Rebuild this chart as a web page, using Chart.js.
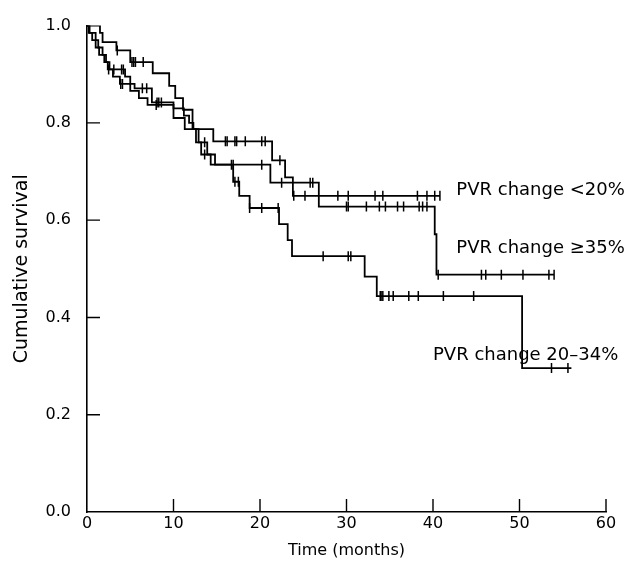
<!DOCTYPE html>
<html lang="en">
<head>
    <meta charset="UTF-8">
    <title>Cumulative survival by PVR change</title>
    <script src="https://cdn.jsdelivr.net/npm/chart.js"></script>
    <style>
        body { margin: 0; background: #fff; }
        #wrap { width: 630px; height: 567px; }
    </style>
</head>
<body>
    <div id="wrap"><canvas id="survivalChart"></canvas></div>

    <script>
        // Kaplan-Meier steps (time in months, survival after the step)
        const timeLt20 = [0, 1.5, 1.8, 3.4, 5.0, 7.6, 9.5, 10.2, 11.1, 12.2, 14.6, 21.4, 22.9, 23.8, 40.8];
        const survLt20 = [1.0, 0.985, 0.966, 0.949, 0.925, 0.902, 0.876, 0.851, 0.827, 0.787, 0.762, 0.723, 0.688, 0.65, 0.65];
        const censLt20 = [3.5, 5.2, 5.4, 5.6, 6.5, 16.0, 16.2, 17.1, 17.3, 18.3, 20.2, 20.6, 22.3, 23.9, 25.2, 29.0, 30.2, 33.3, 34.2, 38.2, 39.3, 40.2, 40.8];

        const timeGe35 = [0, 0.3, 1.0, 1.3, 1.8, 2.2, 2.6, 4.4, 5.0, 5.5, 7.5, 10.0, 11.3, 12.6, 13.2, 14.3, 21.2, 26.8, 40.2, 40.4, 54.0];
        const survGe35 = [1.0, 0.985, 0.97, 0.955, 0.94, 0.925, 0.91, 0.895, 0.88, 0.871, 0.842, 0.81, 0.787, 0.76, 0.735, 0.714, 0.677, 0.628, 0.571, 0.488, 0.488];
        const censGe35 = [3.1, 4.0, 4.2, 6.4, 6.9, 8.1, 8.3, 8.6, 13.6, 16.7, 16.9, 20.2, 22.5, 25.8, 26.1, 30.0, 30.2, 32.3, 33.8, 34.5, 35.9, 36.6, 38.4, 38.8, 39.3, 40.6, 45.6, 46.1, 47.9, 50.4, 53.4, 54.0];

        const time2034 = [0, 0.2, 0.6, 1.0, 1.4, 2.0, 2.4, 3.0, 3.8, 5.0, 6.0, 7.0, 10.0, 11.2, 11.8, 12.3, 12.9, 13.9, 14.8, 16.9, 17.6, 18.8, 22.2, 23.2, 23.7, 32.1, 33.5, 50.3, 56.0];
        const surv2034 = [1.0, 0.985, 0.97, 0.955, 0.94, 0.925, 0.91, 0.895, 0.88, 0.866, 0.851, 0.837, 0.83, 0.815, 0.80, 0.787, 0.76, 0.735, 0.714, 0.679, 0.65, 0.625, 0.592, 0.559, 0.526, 0.484, 0.444, 0.296, 0.296];
        const cens2034 = [2.5, 3.9, 4.1, 8.0, 13.6, 17.1, 17.5, 18.8, 20.2, 22.1, 27.3, 30.2, 30.5, 33.9, 34.0, 34.2, 34.9, 35.4, 37.2, 38.3, 41.2, 44.7, 53.7, 55.6];

        const groupLabels = ['PVR change <20%', 'PVR change \u226535%', 'PVR change 20\u201334%'];
        const xTicks = [0, 10, 20, 30, 40, 50, 60];
        const yTicks = [0, 0.2, 0.4, 0.6, 0.8, 1.0];

        const FONT = '"DejaVu Sans", sans-serif';

        function stepPoints(times, surv) {
            return times.map((t, i) => ({ x: t, y: surv[i] }));
        }
        // censored observations sit on the curve at their time
        function censorPoints(censTimes, times, surv) {
            return censTimes.map(t => {
                let y = surv[0];
                for (let i = 0; i < times.length; i++) {
                    if (times[i] <= t) y = surv[i];
                }
                return { x: t, y: y };
            });
        }

        const lineStyle = {
            type: 'line',
            stepped: 'before',
            borderColor: '#000',
            borderWidth: 1.8,
            pointRadius: 0,
            fill: false
        };
        const tickStyle = {
            type: 'scatter',
            pointStyle: 'line',
            rotation: 90,
            pointRadius: 5,
            borderColor: '#000',
            borderWidth: 1.5
        };

        // inward tick marks on both axes + curve labels
        const decorations = {
            id: 'decorations',
            afterDraw(chart) {
                const ctx = chart.ctx;
                const x = chart.scales.x, y = chart.scales.y;
                ctx.save();
                ctx.strokeStyle = '#000';
                ctx.lineWidth = 1.4;
                ctx.beginPath();
                xTicks.slice(1).forEach(v => {
                    const px = x.getPixelForValue(v);
                    ctx.moveTo(px, y.bottom);
                    ctx.lineTo(px, y.bottom - 13);
                });
                yTicks.slice(1, -1).forEach(v => {
                    const py = y.getPixelForValue(v);
                    ctx.moveTo(x.left, py);
                    ctx.lineTo(x.left + 13, py);
                });
                ctx.stroke();

                ctx.fillStyle = '#000';
                ctx.font = '18px ' + FONT;
                ctx.textBaseline = 'middle';
                ctx.textAlign = 'left';
                ctx.fillText(groupLabels[0], x.getPixelForValue(42.7), y.getPixelForValue(0.661));
                ctx.fillText(groupLabels[1], x.getPixelForValue(42.7), y.getPixelForValue(0.543));
                ctx.fillText(groupLabels[2], x.getPixelForValue(40.0), y.getPixelForValue(0.322));
                ctx.restore();
            }
        };

        const ctx = document.getElementById('survivalChart').getContext('2d');
        new Chart(ctx, {
            data: {
                datasets: [
                    Object.assign({ label: groupLabels[0], data: stepPoints(timeLt20, survLt20) }, lineStyle),
                    Object.assign({ label: groupLabels[1], data: stepPoints(timeGe35, survGe35) }, lineStyle),
                    Object.assign({ label: groupLabels[2], data: stepPoints(time2034, surv2034) }, lineStyle),
                    Object.assign({ label: 'c1', data: censorPoints(censLt20, timeLt20, survLt20) }, tickStyle),
                    Object.assign({ label: 'c2', data: censorPoints(censGe35, timeGe35, survGe35) }, tickStyle),
                    Object.assign({ label: 'c3', data: censorPoints(cens2034, time2034, surv2034) }, tickStyle)
                ]
            },
            options: {
                responsive: true,
                maintainAspectRatio: false,
                animation: false,
                layout: { padding: { top: 18, right: 24, left: 0, bottom: 0 } },
                plugins: {
                    legend: { display: false },
                    tooltip: { enabled: false }
                },
                scales: {
                    x: {
                        type: 'linear',
                        min: 0,
                        max: 60,
                        afterBuildTicks: s => { s.ticks = xTicks.map(v => ({ value: v })); },
                        afterFit: s => { s.height = 55; },
                        grid: { display: false, drawTicks: false },
                        border: { display: true, color: '#000', width: 1.6 },
                        ticks: { color: '#000', padding: 2, font: { family: FONT, size: 16 } },
                        title: {
                            display: true,
                            text: 'Time (months)',
                            color: '#000',
                            padding: { top: 0, bottom: 7 },
                            font: { family: FONT, size: 16 }
                        }
                    },
                    y: {
                        type: 'linear',
                        min: 0,
                        max: 1,
                        afterBuildTicks: s => { s.ticks = yTicks.map(v => ({ value: v })); },
                        afterFit: s => { s.width = 87; },
                        grid: { display: false, drawTicks: false },
                        border: { display: true, color: '#000', width: 1.6 },
                        ticks: {
                            color: '#000',
                            padding: 16,
                            font: { family: FONT, size: 16 },
                            callback: v => v.toFixed(1)
                        },
                        title: {
                            display: true,
                            text: 'Cumulative survival',
                            color: '#000',
                            padding: { top: 11, bottom: 0 },
                            font: { family: FONT, size: 19 }
                        }
                    }
                }
            },
            plugins: [decorations]
        });
    </script>
</body>
</html>
